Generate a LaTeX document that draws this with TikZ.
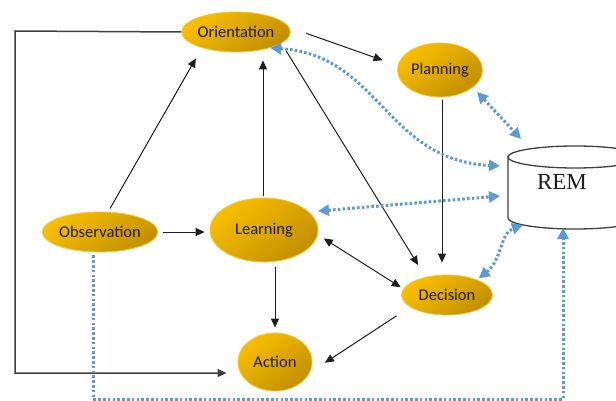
\documentclass[tikz,border=0pt]{standalone}
\usepackage{fontspec}
\setmainfont{Carlito}
\newfontfamily\remfont{Liberation Serif}
\usetikzlibrary{arrows.meta,shapes.geometric}
\definecolor{goldA}{HTML}{F8BE00}
\definecolor{goldB}{HTML}{C29000}
\definecolor{goldE}{HTML}{F7C63A}
\definecolor{remblue}{HTML}{5B9BD5}
\definecolor{ink}{HTML}{1E1E1E}
\begin{document}
\begin{tikzpicture}[x=1pt,y=-1pt,
  blob/.style={ellipse, inner sep=0pt, top color=goldA, bottom color=goldB, shading angle=40,
    draw=goldE, line width=0.8pt, font=\fontsize{16.5}{18}\selectfont, text=ink},
  arr/.style={draw=ink, line width=1pt, -{Triangle[length=9pt,width=8pt]}},
  darr/.style={draw=ink, line width=1pt, {Triangle[length=9pt,width=8pt]}-{Triangle[length=9pt,width=8pt]}},
  bdot/.style={draw=remblue, line width=3pt, dash pattern=on 2.6pt off 2.2pt},
  bone/.style={bdot, -{Triangle[length=11pt,width=11pt]}},
  btwo/.style={bdot, {Triangle[length=11pt,width=11pt]}-{Triangle[length=11pt,width=11pt]}},
  cyl/.style={draw=black!75, line width=1.3pt, fill=white}
]
\useasboundingbox (0,0) rectangle (616,401);

% REM cylinder
\filldraw[cyl] (508,157) -- (508,218) arc[start angle=180,end angle=360,x radius=67pt,y radius=11pt] -- (642,157) -- cycle;
\filldraw[cyl] (575,157) ellipse [x radius=67pt, y radius=11pt];
\node[font=\remfont\fontsize{23}{25}\selectfont, text=ink] (rem) at (562,182) {REM};
\coordinate (remO) at (500,166);
\coordinate (remP) at (521,139);
\coordinate (remL) at (500,196);
\coordinate (remD) at (523,225);
\coordinate (remB) at (563,228);

% nodes
\node[blob, minimum width=106pt, minimum height=40pt] (orient) at (236,32) {Orientation};
\node[blob, minimum width=85pt, minimum height=54pt] (plan) at (440,70) {Planning};
\node[blob, minimum width=114pt, minimum height=40pt] (obs) at (100,232) {Observation};
\node[blob, minimum width=108pt, minimum height=64pt] (learn) at (264,230) {Learning};
\node[blob, minimum width=91pt, minimum height=40pt] (dec) at (447,295) {Decision};
\node[blob, minimum width=74pt, minimum height=58pt] (act) at (275,362) {Action};

% black arrows
\draw[arr, shorten <=4pt, shorten >=12pt] (obs.68) -- (orient.205);
\draw[arr, shorten <=5pt, shorten >=5pt] (obs.east) -- (obs.east -| learn.west);
\draw[arr, shorten <=2pt, shorten >=8pt] (learn.north -| 263,0) -- (orient.south -| 263,0);
\draw[arr, shorten <=18pt, shorten >=16pt] (orient.5) -- (plan.174);
\draw[arr, shorten <=9pt, shorten >=14pt] (orient.-14) -- (dec.140);
\draw[arr, shorten <=3pt, shorten >=12pt] (plan.south -| 442,0) -- (dec.north -| 442,0);
\draw[darr, shorten <=7pt, shorten >=3pt] (learn.-5) -- (dec.172);
\draw[arr, shorten <=5pt, shorten >=5pt] (act.north |- learn.south) -- (act.north);
\draw[arr, shorten <=16pt, shorten >=18pt] (dec.198) -- (act.-17);

% feedback loop
\coordinate (fb1) at (15,31);
\coordinate (fb2) at (15,373);
\draw[draw=black!75, line width=1.5pt, -{Triangle[length=9pt,width=8pt]}, shorten >=11pt]
  (orient.west) -- (fb1) -- (fb2) -- (fb2 -| act.west);

% blue dotted links
\draw[btwo] (orient.-25) .. controls (380,55) and (385,160) .. (remO);
\draw[btwo, shorten <=6pt] (plan.-28) -- (remP);
\draw[btwo, shorten <=9pt] (learn.22) -- (remL);
\draw[btwo, shorten <=2pt] (dec.27) .. controls (502,260) and (500,233) .. (remD);
\coordinate (ob1) at (93,399);
\coordinate (ob2) at (563,399);
\draw[bone, shorten <=3pt] (ob1 |- obs.south) -- (ob1) -- (ob2) -- (remB);
\end{tikzpicture}
\end{document}
